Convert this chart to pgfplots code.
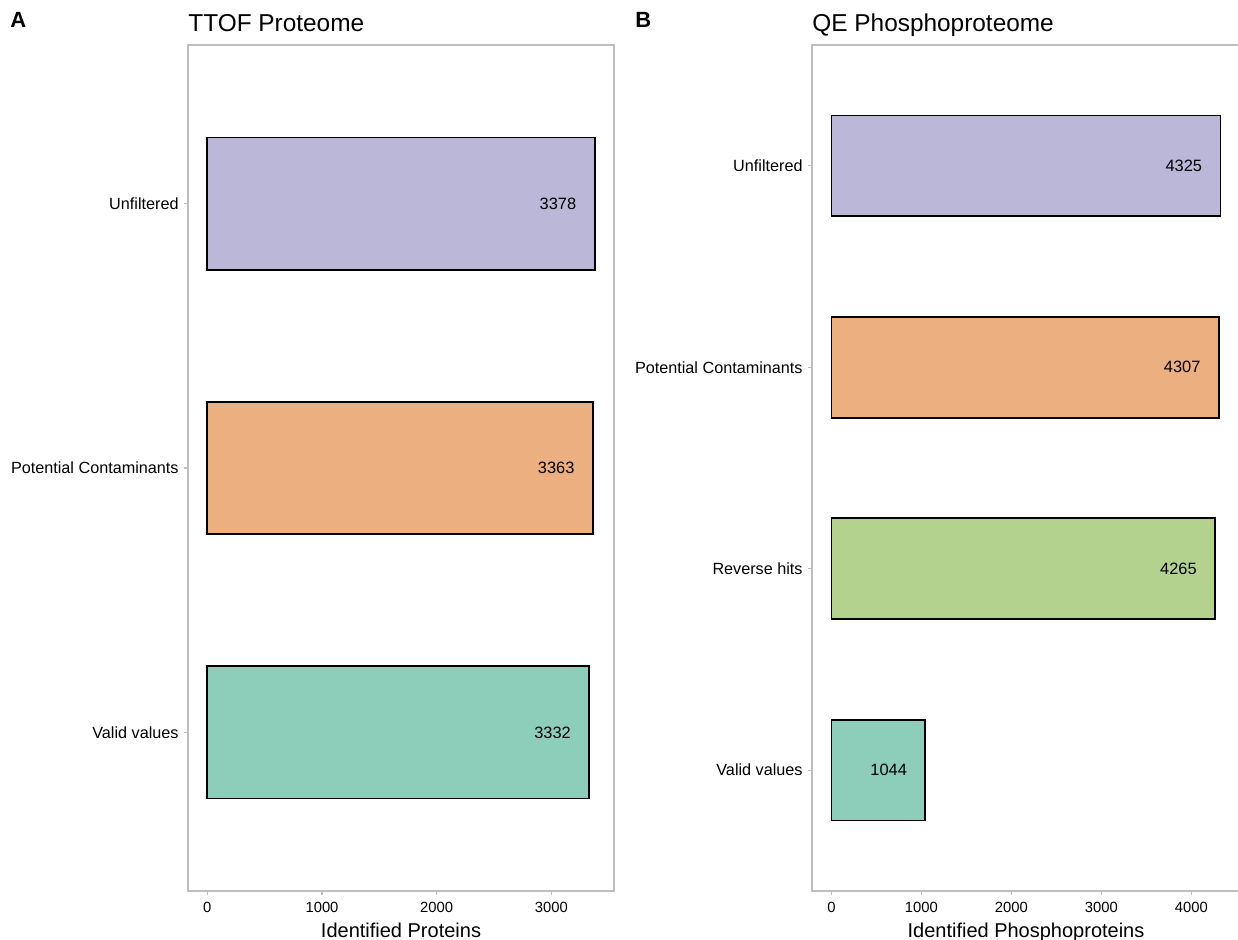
\documentclass[border=0pt]{standalone}
\usepackage{pgfplots}
\pgfplotsset{compat=1.18}
\usepackage{fontspec}
\setmainfont{Liberation Sans}

\definecolor{cValid}{HTML}{8DCEBB}
\definecolor{cCont}{HTML}{ECAF80}
\definecolor{cUnf}{HTML}{BAB7D9}
\definecolor{cRev}{HTML}{B2D28E}
\definecolor{frameGrey}{HTML}{BEBEBE}

\pgfplotsset{
  panel/.style={
    scale only axis,
    anchor=south west,
    xbar,
    bar shift=0pt,
    bar width=0.5,
    axis line style={frameGrey, line width=0.8pt},
    tick style={frameGrey, line width=0.6pt},
    tick align=outside,
    major tick length=2.2pt,
    xtick pos=bottom,
    ytick pos=left,
    ytick style={draw=frameGrey},
    xticklabel style={font=\fontsize{7.4}{8}\selectfont},
    yticklabel style={font=\fontsize{8.1}{9}\selectfont, xshift=1pt},
    /pgf/number format/assume math mode=true,
    /pgf/number format/1000 sep={},
    title style={at={(0,1)}, anchor=base west, yshift=0.5pt, inner sep=0pt,
      font=\fontsize{12.2}{14}\selectfont},
    xlabel style={at={(0.5,0)}, anchor=base, yshift=-23.5pt, inner sep=0pt,
      font=\fontsize{10}{12}\selectfont},
    every axis plot/.append style={draw=black, line width=0.9pt},
    nodes near coords,
    every node near coord/.append style={anchor=east, xshift=-8.8pt, inner sep=0pt,
      text=black, font=\fontsize{8.2}{10}\selectfont},
  },
}

\begin{document}
\begin{tikzpicture}
% Panel A: TTOF proteome
\begin{axis}[panel,
  at={(94pt,24.5pt)}, width=213pt, height=423pt,
  xmin=-168.9, xmax=3546.9, ymin=0.4, ymax=3.6,
  xtick={0,1000,2000,3000},
  ytick={1,2,3},
  yticklabels={Valid values, Potential Contaminants, Unfiltered},
  title={TTOF Proteome},
  xlabel={Identified Proteins},
]
\addplot[fill=cValid] coordinates {(3332,1)};
\addplot[fill=cCont] coordinates {(3363,2)};
\addplot[fill=cUnf] coordinates {(3378,3)};
\end{axis}

% Panel B: QE phosphoproteome
\begin{axis}[panel,
  at={(406pt,24.5pt)}, width=214pt, height=423pt,
  xmin=-216.25, xmax=4541.25, ymin=0.4, ymax=4.6,
  xtick={0,1000,2000,3000,4000},
  ytick={1,2,3,4},
  yticklabels={Valid values, Reverse hits, Potential Contaminants, Unfiltered},
  title={QE Phosphoproteome},
  xlabel={Identified Phosphoproteins},
]
\addplot[fill=cValid] coordinates {(1044,1)};
\addplot[fill=cRev] coordinates {(4265,2)};
\addplot[fill=cCont] coordinates {(4307,3)};
\addplot[fill=cUnf] coordinates {(4325,4)};
\end{axis}

\node[anchor=base west, inner sep=0pt, font=\bfseries\fontsize{11}{13}\selectfont] at (5pt,456pt) {A};
\node[anchor=base west, inner sep=0pt, font=\bfseries\fontsize{11}{13}\selectfont] at (317.5pt,456pt) {B};

\pgfresetboundingbox
\path (0,0) rectangle (619pt,470pt);
\end{tikzpicture}
\end{document}
